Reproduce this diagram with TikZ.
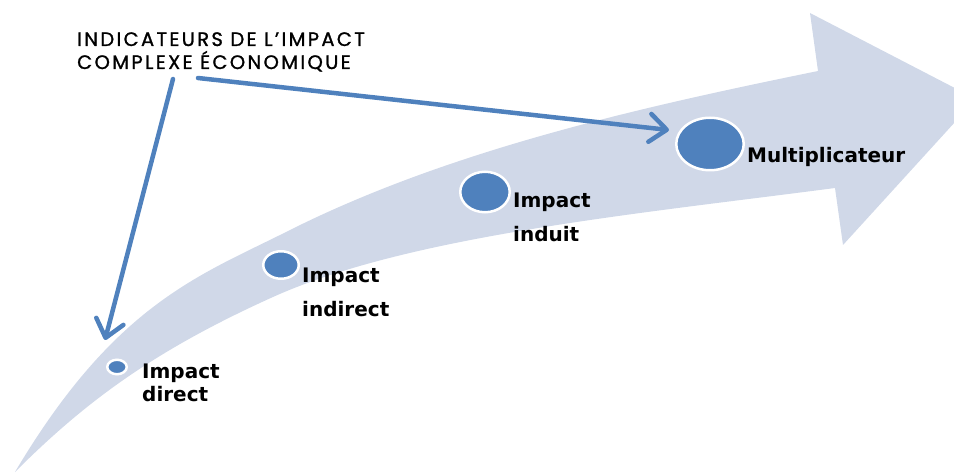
\documentclass[tikz,border=0pt]{standalone}
\usepackage{fontspec}
\setmainfont{DejaVu Sans}
\newfontfamily\titlefont[LetterSpace=12,FakeBold=1.2]{Poppins}
\usetikzlibrary{arrows.meta,shapes.geometric}
\definecolor{bandfill}{RGB}{208,216,232}
\definecolor{dotblue}{RGB}{79,129,189}
\begin{document}
\begin{tikzpicture}[x=1pt,y=-1pt,
  dot/.style={ellipse, fill=dotblue, draw=white, line width=2.5pt, inner sep=0pt},
  lbl/.style={anchor=base west, inner sep=0pt, font=\bfseries\fontsize{20}{24}\selectfont},
  ttl/.style={anchor=base west, inner sep=0pt, font=\titlefont\fontsize{19.5}{23}\selectfont},
  conn/.style={draw=dotblue, line width=4.5pt, line cap=round, -{Straight Barb[length=17pt,width=28pt,round]}}]
\useasboundingbox (0,0) rectangle (954,473);
\clip (0,0) rectangle (954,473);
% big curved arrow band
\fill[bandfill] (15,472) .. controls (116,302) and (200.6,275.3) .. (290,230)
  .. controls (451,149.5) and (641.6,107) .. (818,71)
  -- (810,13) -- (976,99) -- (843,245) -- (835,188)
  .. controls (637,214) and (409.5,235.5) .. (273,297)
  .. controls (154.7,350.3) and (85.7,401.3) .. (15,472) -- cycle;
% dots
\node[dot, minimum width=19.5pt, minimum height=14.5pt] (c1) at (117,367) {};
\node[dot, minimum width=35.5pt, minimum height=27.5pt] (c2) at (281,265) {};
\node[dot, minimum width=49.5pt, minimum height=40.5pt] (c3) at (485,192) {};
\node[dot, minimum width=67.5pt, minimum height=52.5pt] (c4) at (710,144) {};
% labels
\node[lbl] (l1a) at (142,378) {Impact};
\node[lbl] (l1b) at (142,401) {direct};
\node[lbl] (l2a) at (302,283) {Impact};
\node[lbl] (l2b) at (302,317) {indirect};
\node[lbl] (l3a) at (513,208) {Impact};
\node[lbl] (l3b) at (513,242) {induit};
\node[lbl] (l4) at (747,163) {Multiplicateur};
% title
\node[ttl] (t1) at (77,46) {INDICATEURS DE L’IMPACT};
\node[ttl] (t2) at (77,69) {COMPLEXE ÉCONOMIQUE};
% connectors
\coordinate (s1) at (173,79);
\coordinate (e1) at (105,340);
\coordinate (s2) at (198,78);
\coordinate (e2) at (669,130);
\draw[conn] (s1) -- (e1);
\draw[conn] (s2) -- (e2);
\end{tikzpicture}
\end{document}
